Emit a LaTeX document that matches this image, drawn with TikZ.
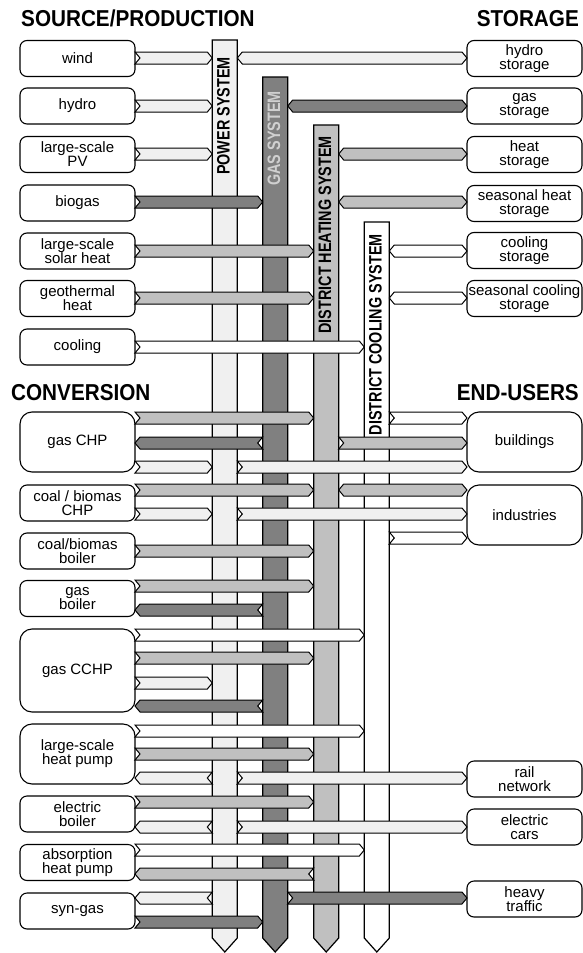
\documentclass[tikz,border=0pt]{standalone}
\usepackage{fontspec}
\setmainfont{Liberation Sans}
\usepackage{graphicx}
\usetikzlibrary{calc}
\definecolor{pwc}{HTML}{F0F0F0}
\definecolor{gsc}{HTML}{808080}
\definecolor{dhc}{HTML}{C0C0C0}
\definecolor{gtxt}{HTML}{D0D0D0}
\def\fh{6pt}
% #1 fill, #2 left anchor, #3 right anchor, #4 y (px, downwards),
% #5 left end: 1 notch, -1 point ; #6 right end: 1 point, -1 notch
\newcommand\flow[6]{%
  \path[flw,fill=#1] let \p1=(#2), \p2=(#3) in
    ({\x1+2.5pt*(1-(#5))},{-#4pt+\fh})
    -- ({\x2-2.5pt*(1+(#6))},{-#4pt+\fh})
    -- ({\x2-2.5pt*(1-(#6))},{-#4pt})
    -- ({\x2-2.5pt*(1+(#6))},{-#4pt-\fh})
    -- ({\x1+2.5pt*(1-(#5))},{-#4pt-\fh})
    -- ({\x1+2.5pt*(1+(#5))},{-#4pt})
    -- cycle;}
\newcommand\drawbar[2]{%
  \path[barline,fill=#2] (#1.north west) -- (#1.north east) -- (#1.south east)
    -- ($(#1.south)+(0,14)$) -- (#1.south west) -- cycle;}
\tikzset{
 box/.style={draw, fill=white, line width=1.1pt, rounded corners=7pt,
   minimum width=115pt, minimum height=36pt, inner sep=0pt, outer sep=0pt,
   align=center, font=\fontsize{15}{14}\selectfont},
 bigbox/.style={box, rounded corners=12pt},
 barn/.style={minimum width=25pt, inner sep=0pt, outer sep=0pt},
 barline/.style={draw, line width=1.2pt, line join=miter},
 flw/.style={draw, line width=1pt, line join=miter},
 ttl/.style={inner sep=0pt, font=\fontsize{23}{23}\selectfont\bfseries},
 blbl/.style={rotate=90, anchor=east, inner sep=0pt, font=\fontsize{18}{18}\selectfont\bfseries},
}
\begin{document}
\begin{tikzpicture}[x=1pt,y=-1pt]
\useasboundingbox (0,0) rectangle (583,953);
% titles
\node[ttl, anchor=base west] (t1) at (21,27) {\scalebox{0.9}[1]{SOURCE/PRODUCTION}};
\node[ttl, anchor=base east] (t2) at (579,27) {\scalebox{0.9}[1]{STORAGE}};
\node[ttl, anchor=base west] (t3) at (11,400) {\scalebox{0.9}[1]{CONVERSION}};
\node[ttl, anchor=base east] (t4) at (579,400) {\scalebox{0.9}[1]{END-USERS}};
% system bars
\node[barn, minimum height=898pt] (pw) at (224.8,489) {};
\node[barn, minimum height=861pt] (gs) at (275.2,507.5) {};
\node[barn, minimum height=813pt] (dh) at (326.2,531.5) {};
\node[barn, minimum height=716pt] (dc) at (376.8,580) {};
\drawbar{pw}{pwc}
\drawbar{gs}{gsc}
\drawbar{dh}{dhc}
\drawbar{dc}{white}
\node[blbl] (lpw) at (223.5,57) {\scalebox{0.8}[1]{POWER SYSTEM}};
\node[blbl, text=gtxt] (lgs) at (274,91) {\scalebox{0.8}[1]{GAS SYSTEM}};
\node[blbl] (ldh) at (325,136) {\scalebox{0.8}[1]{DISTRICT HEATING SYSTEM}};
\node[blbl] (ldc) at (375.5,234) {\scalebox{0.8}[1]{DISTRICT COOLING SYSTEM}};
% left boxes
\node[box] (wind) at (77.5,58.5) {wind};
\node[box] (hydro) at (77.5,106) {hydro};
\node[box] (pv) at (77.5,154.5) {large-scale\\PV};
\node[box] (biogas) at (77.5,203) {biogas};
\node[box] (solar) at (77.5,251) {large-scale\\solar heat};
\node[box] (geo) at (77.5,298.5) {geothermal\\heat};
\node[box] (cool) at (77.5,347) {cooling};
\node[bigbox, minimum height=60pt] (gchp) at (77.5,442) {gas CHP};
\node[box] (cchp) at (77.5,503) {coal / biomas\\CHP};
\node[box] (cboil) at (77.5,551) {coal/biomas\\boiler};
\node[box] (gboil) at (77.5,598.5) {gas\\boiler};
\node[bigbox, minimum height=83pt] (cchp2) at (77.5,670.5) {gas CCHP};
\node[bigbox, minimum height=60pt] (hp) at (77.5,754) {large-scale\\heat pump};
\node[box] (eb) at (77.5,814) {electric\\boiler};
\node[box] (ahp) at (77.5,862.5) {absorption\\heat pump};
\node[box] (syn) at (77.5,911) {syn-gas};
% right boxes
\node[box] (hst) at (524.5,58.5) {hydro\\storage};
\node[box] (gst) at (524.5,106) {gas\\storage};
\node[box] (htst) at (524.5,154.5) {heat\\storage};
\node[box] (sht) at (524.5,203.5) {seasonal heat\\storage};
\node[box] (cst) at (524.5,250.5) {cooling\\storage};
\node[box] (scst) at (524.5,298.5) {seasonal cooling\\storage};
\node[bigbox, minimum height=60pt] (bld) at (524.5,442) {buildings};
\node[bigbox, minimum height=60pt] (ind) at (524.5,515) {industries};
\node[box] (rail) at (524.5,779) {rail\\network};
\node[box] (ecar) at (524.5,827) {electric\\cars};
\node[box] (heavy) at (524.5,899) {heavy\\traffic};
% source / storage flows
\flow{pwc}{wind.east}{pw.west}{58}{1}{1}
\flow{pwc}{pw.east}{hst.west}{58}{-1}{1}
\flow{pwc}{hydro.east}{pw.west}{106}{1}{1}
\flow{gsc}{gs.east}{gst.west}{106}{-1}{1}
\flow{pwc}{pv.east}{pw.west}{154}{1}{1}
\flow{dhc}{dh.east}{htst.west}{154}{-1}{1}
\flow{gsc}{biogas.east}{gs.west}{202}{1}{1}
\flow{dhc}{dh.east}{sht.west}{202}{-1}{1}
\flow{dhc}{solar.east}{dh.west}{251}{1}{1}
\flow{white}{dc.east}{cst.west}{251}{-1}{1}
\flow{dhc}{geo.east}{dh.west}{298}{1}{1}
\flow{white}{dc.east}{scst.west}{298}{-1}{1}
\flow{white}{cool.east}{dc.west}{347}{1}{1}
% conversion / end-user flows
\flow{dhc}{gchp.east}{dh.west}{418}{1}{1}
\flow{gsc}{gchp.east}{gs.west}{443}{-1}{-1}
\flow{pwc}{gchp.east}{pw.west}{467}{1}{1}
\flow{white}{dc.east}{bld.west}{418}{1}{1}
\flow{dhc}{dh.east}{bld.west}{443}{1}{1}
\flow{pwc}{pw.east}{bld.west}{467}{1}{1}
\flow{dhc}{cchp.east}{dh.west}{490}{1}{1}
\flow{dhc}{dh.east}{ind.west}{490}{-1}{1}
\flow{pwc}{cchp.east}{pw.west}{514}{1}{1}
\flow{pwc}{pw.east}{ind.west}{514}{1}{1}
\flow{white}{dc.east}{ind.west}{538}{1}{1}
\flow{dhc}{cboil.east}{dh.west}{551}{1}{1}
\flow{dhc}{gboil.east}{dh.west}{586}{1}{1}
\flow{gsc}{gboil.east}{gs.west}{610}{-1}{-1}
\flow{white}{cchp2.east}{dc.west}{635}{1}{1}
\flow{dhc}{cchp2.east}{dh.west}{658}{1}{1}
\flow{pwc}{cchp2.east}{pw.west}{683}{1}{1}
\flow{gsc}{cchp2.east}{gs.west}{706}{-1}{-1}
\flow{white}{hp.east}{dc.west}{731}{1}{1}
\flow{dhc}{hp.east}{dh.west}{754}{1}{1}
\flow{pwc}{hp.east}{pw.west}{778}{-1}{-1}
\flow{pwc}{pw.east}{rail.west}{778}{1}{1}
\flow{dhc}{eb.east}{dh.west}{802}{1}{1}
\flow{pwc}{eb.east}{pw.west}{827}{-1}{-1}
\flow{pwc}{pw.east}{ecar.west}{827}{1}{1}
\flow{white}{ahp.east}{dc.west}{850}{1}{1}
\flow{dhc}{ahp.east}{dh.west}{874}{-1}{-1}
\flow{pwc}{syn.east}{pw.west}{898}{-1}{-1}
\flow{gsc}{gs.east}{heavy.west}{898}{1}{1}
\flow{gsc}{syn.east}{gs.west}{922}{1}{1}
\end{tikzpicture}
\end{document}
